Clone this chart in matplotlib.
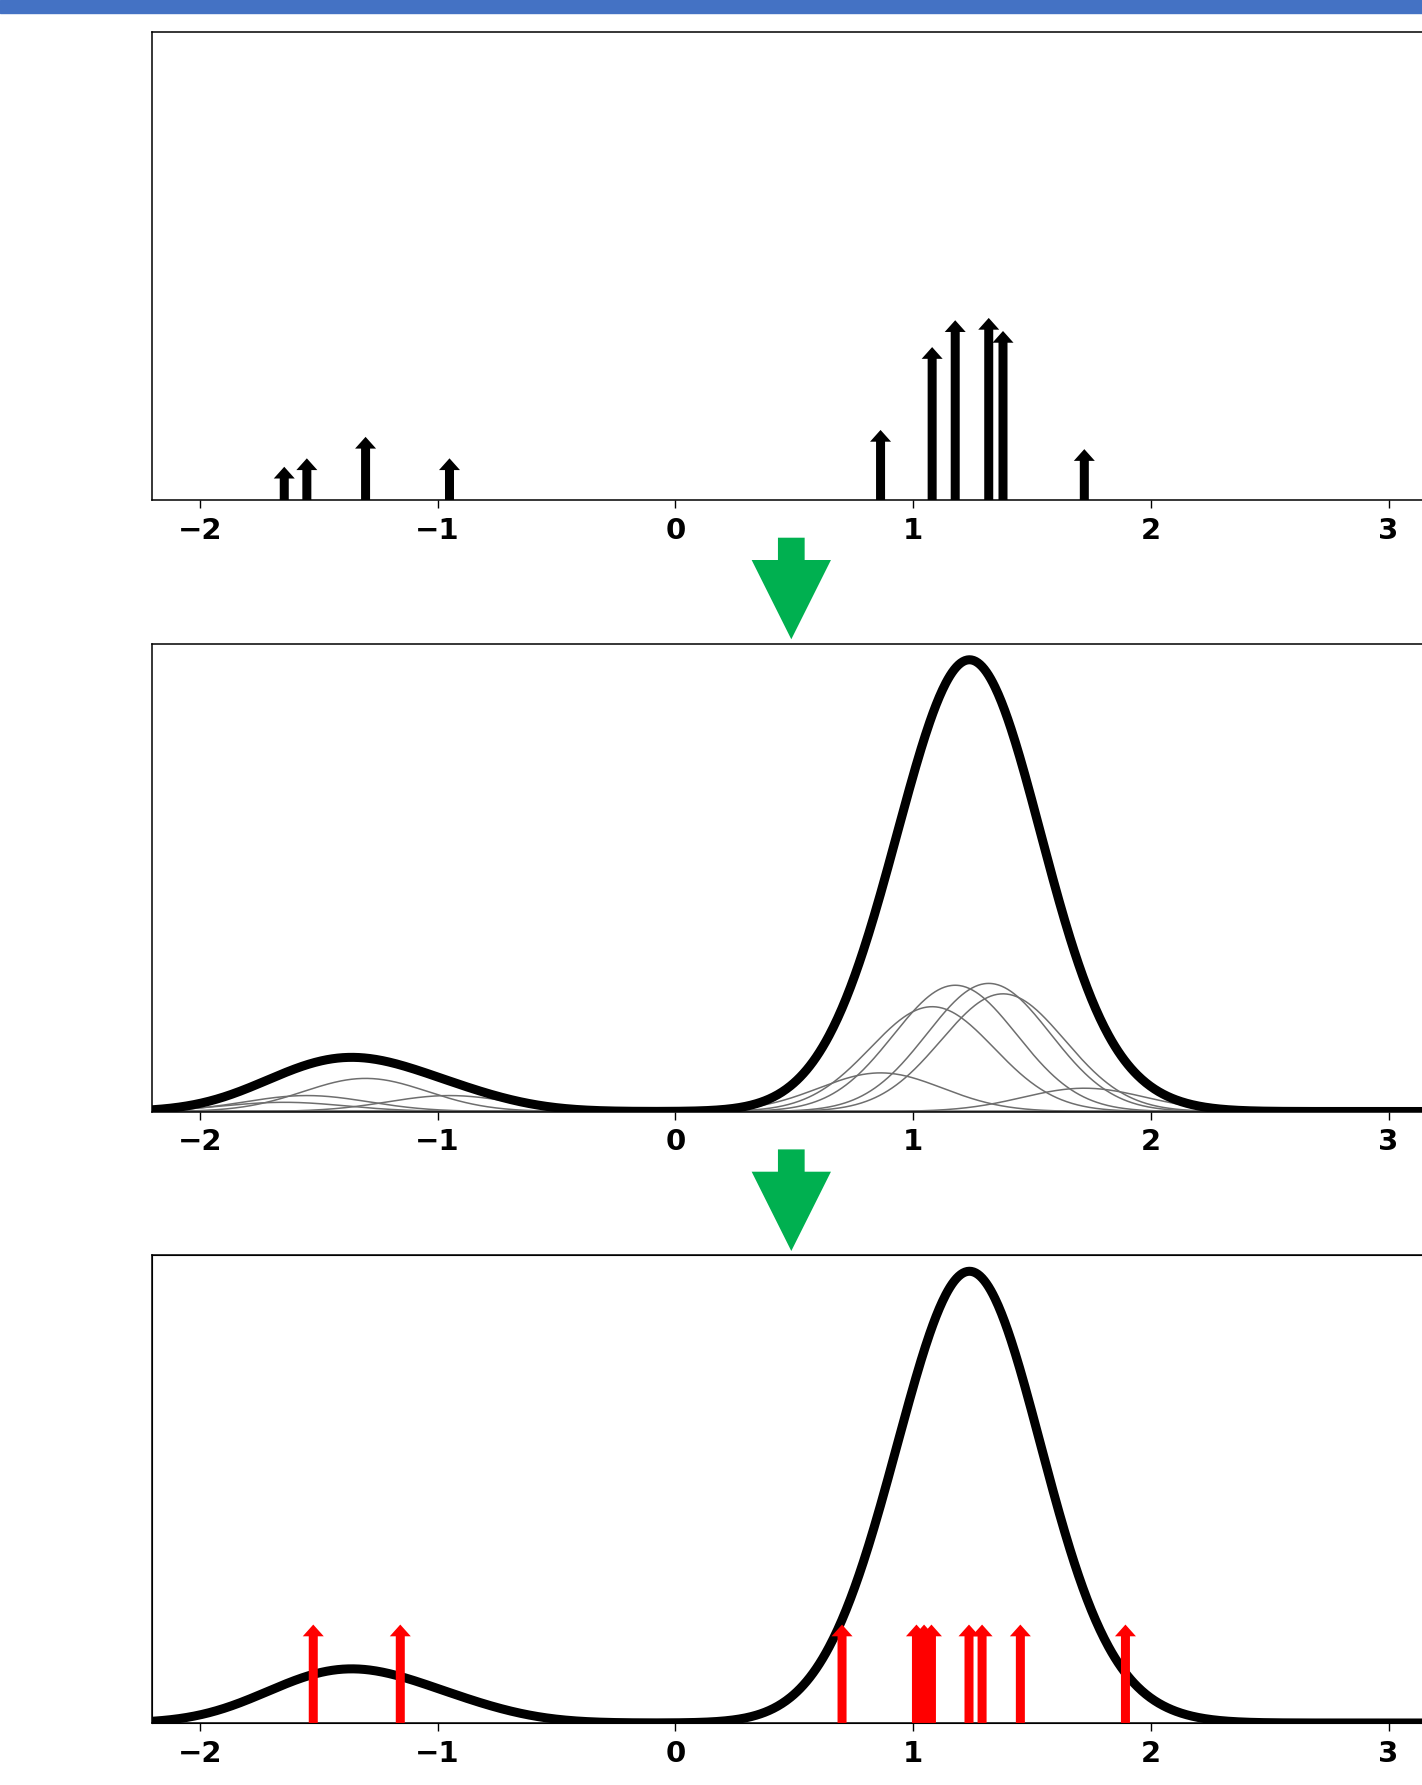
import numpy as np
import matplotlib
matplotlib.use("Agg")
import matplotlib.pyplot as plt
from matplotlib.patches import FancyArrow, Rectangle

# particles (position, weight) before resampling
particle_x = [-1.645, -1.55, -1.303, -0.95, 0.863, 1.08, 1.177, 1.318, 1.378, 1.72]
particle_w = [0.015, 0.026, 0.054, 0.026, 0.063, 0.171, 0.206, 0.209, 0.192, 0.038]

# resampled particles, all with equal weight
sample_x = [-1.523, -1.157, 0.701, 1.014, 1.046, 1.077, 1.235, 1.29, 1.451, 1.893]
sample_w = [0.1] * len(sample_x)

bandwidth = 0.26
xticks = [-2, -1, 0, 1, 2, 3]

W, H = 1422, 1785
fig = plt.figure(figsize=(W / 100, H / 100), dpi=100)

# axes geometry in pixels
ax_left, ax_right = 152.3, 1436.2
ax_h = 468
ax_tops = [32, 643.5, 1255]
xmin, xmax = -2.2, 3.2
arrow_ymax = 0.61


def make_axes(top):
    ax = fig.add_axes([ax_left / W, 1 - (top + ax_h) / H,
                       (ax_right - ax_left) / W, ax_h / H])
    ax.set_xlim(xmin, xmax)
    ax.set_xticks(xticks)
    ax.set_yticks([])
    ax.tick_params(axis="x", length=5.4, width=1.0, pad=6.5, labelsize=21)
    for lab in ax.get_xticklabels():
        lab.set_fontweight("bold")
    for sp in ax.spines.values():
        sp.set_linewidth(1.1)
    return ax


def draw_arrows(ax, xs, ws, color):
    for x, w in zip(xs, ws):
        ax.add_patch(FancyArrow(x, 0, 0, w + 0.013, width=0.0379,
                                head_width=0.0883, head_length=0.0153,
                                length_includes_head=False,
                                color=color, lw=0))


def kernel(x, mu):
    return np.exp(-0.5 * ((x - mu) / bandwidth) ** 2) / (bandwidth * np.sqrt(2 * np.pi))


grid = np.linspace(xmin, xmax, 1200)
kde = sum(w * kernel(grid, mu) for mu, w in zip(particle_x, particle_w))
ytop = kde.max() * 1.036

# panel 1: weighted particles
ax1 = make_axes(ax_tops[0])
ax1.set_ylim(0, arrow_ymax)
draw_arrows(ax1, particle_x, particle_w, "black")

# panel 2: kernel density estimate with individual kernels
ax2 = make_axes(ax_tops[1])
for mu, w in zip(particle_x, particle_w):
    ax2.plot(grid, w * kernel(grid, mu), color="#6e6e6e", lw=1.1)
ax2.plot(grid, kde, color="black", lw=6.5)
ax2.set_ylim(0, ytop)

# panel 3: density and resampled particles
ax3 = make_axes(ax_tops[2])
ax3.plot(grid, kde, color="black", lw=6.5)
ax3.set_ylim(0, ytop)
ax3b = ax3.twinx()
ax3b.set_ylim(0, arrow_ymax)
ax3b.set_yticks([])
ax3b.spines["right"].set_visible(False)
draw_arrows(ax3b, sample_x, sample_w, "red")

# header bar
fig.patches.append(Rectangle((0, 1 - 13.5 / H), 1, 13.5 / H,
                             transform=fig.transFigure, color="#4472C4"))

# green arrows between panels
for top in [537.7, 1149.4]:
    fig.patches.append(FancyArrow(791.3 / W, 1 - top / H, 0, -101.6 / H,
                                  width=26.7 / W, head_width=79.3 / W,
                                  head_length=79.3 / H,
                                  length_includes_head=True,
                                  transform=fig.transFigure,
                                  color="#00B050", lw=0))

fig.savefig("out.png", dpi=100)
